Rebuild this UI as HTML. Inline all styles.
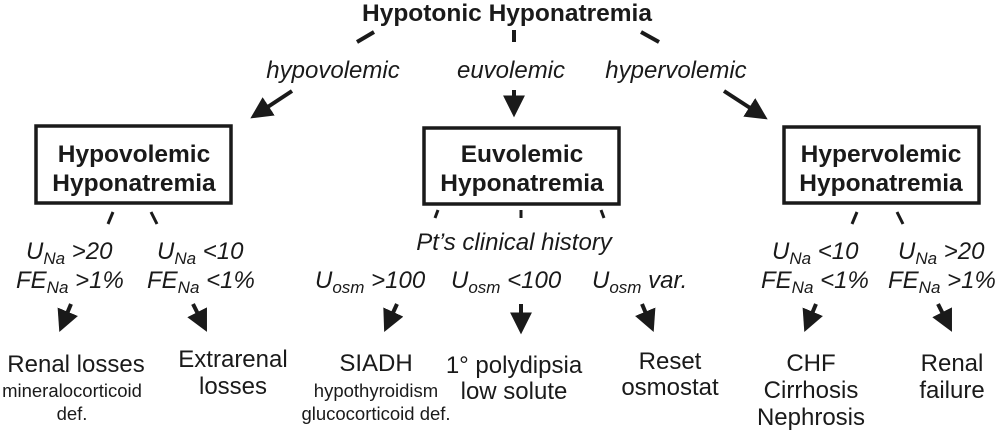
<!DOCTYPE html>
<html><head><meta charset="utf-8"><style>
html,body{margin:0;padding:0;background:#fff;}
svg{display:block;font-family:"Liberation Sans",Arial,sans-serif;}
.b{font-weight:bold;font-size:24.5px;}
.i{font-style:italic;font-size:24px;}
.n{font-size:24px;}
.s{font-size:18.5px;}
.sub{font-size:17px;}
text{fill:#1a1a1a;}
</style></head><body>
<svg width="997" height="436" viewBox="0 0 997 436">
<defs><marker id="ah" viewBox="0 0 10 10" refX="8" refY="5" markerWidth="5.5" markerHeight="5.5" orient="auto"><path d="M0,0L10,5L0,10z" fill="#1a1a1a"/></marker></defs>
<g stroke="#1a1a1a" stroke-width="4" fill="none">
<line x1="374" y1="32" x2="357" y2="42"/>
<line x1="514" y1="30" x2="514" y2="42"/>
<line x1="641" y1="32" x2="659" y2="42"/>
<line x1="292" y1="91" x2="254" y2="116" marker-end="url(#ah)"/>
<line x1="514" y1="90" x2="514" y2="113" marker-end="url(#ah)"/>
<line x1="724" y1="91" x2="764" y2="117" marker-end="url(#ah)"/>
<rect x="36" y="126" width="195" height="77" stroke-width="3.5"/>
<rect x="424" y="128" width="195" height="76" stroke-width="3.5"/>
<rect x="784" y="127" width="195" height="76" stroke-width="3.5"/>
<line x1="113" y1="212" x2="108" y2="224" stroke-width="3"/>
<line x1="151" y1="212" x2="157" y2="224" stroke-width="3"/>
<line x1="438" y1="210" x2="435" y2="218" stroke-width="3"/>
<line x1="521" y1="210" x2="521" y2="218" stroke-width="3"/>
<line x1="601" y1="210" x2="604" y2="218" stroke-width="3"/>
<line x1="857" y1="212" x2="852" y2="224" stroke-width="3"/>
<line x1="897" y1="212" x2="903" y2="224" stroke-width="3"/>
<line x1="71" y1="304" x2="61" y2="328" marker-end="url(#ah)"/>
<line x1="193" y1="304" x2="205" y2="328" marker-end="url(#ah)"/>
<line x1="397" y1="304" x2="386" y2="328" marker-end="url(#ah)"/>
<line x1="521" y1="304" x2="521" y2="330" marker-end="url(#ah)"/>
<line x1="642" y1="304" x2="652" y2="328" marker-end="url(#ah)"/>
<line x1="816" y1="304" x2="806" y2="328" marker-end="url(#ah)"/>
<line x1="938" y1="304" x2="950" y2="328" marker-end="url(#ah)"/>
</g>
<text x="507" y="21" text-anchor="middle" class="b" textLength="290" lengthAdjust="spacingAndGlyphs">Hypotonic Hyponatremia</text>
<text x="333" y="78" text-anchor="middle" class="i">hypovolemic</text>
<text x="511" y="78" text-anchor="middle" class="i">euvolemic</text>
<text x="676" y="78" text-anchor="middle" class="i">hypervolemic</text>
<text x="134" y="162" text-anchor="middle" class="b">Hypovolemic</text>
<text x="134" y="191" text-anchor="middle" class="b">Hyponatremia</text>
<text x="522" y="162" text-anchor="middle" class="b">Euvolemic</text>
<text x="522" y="191" text-anchor="middle" class="b">Hyponatremia</text>
<text x="881" y="162" text-anchor="middle" class="b">Hypervolemic</text>
<text x="881" y="191" text-anchor="middle" class="b">Hyponatremia</text>
<text x="514" y="250" text-anchor="middle" class="i">Pt’s clinical history</text>
<g>
<text x="26" y="259" class="i">U<tspan class="sub" dy="5">Na</tspan><tspan dy="-5"> &gt;20</tspan></text>
<text x="16" y="288" class="i">FE<tspan class="sub" dy="5">Na</tspan><tspan dy="-5"> &gt;1%</tspan></text>
<text x="157" y="259" class="i">U<tspan class="sub" dy="5">Na</tspan><tspan dy="-5"> &lt;10</tspan></text>
<text x="147" y="288" class="i">FE<tspan class="sub" dy="5">Na</tspan><tspan dy="-5"> &lt;1%</tspan></text>
<text x="315" y="288" class="i">U<tspan class="sub" dy="5">osm</tspan><tspan dy="-5"> &gt;100</tspan></text>
<text x="451" y="288" class="i">U<tspan class="sub" dy="5">osm</tspan><tspan dy="-5"> &lt;100</tspan></text>
<text x="592" y="288" class="i">U<tspan class="sub" dy="5">osm</tspan><tspan dy="-5"> var.</tspan></text>
<text x="772" y="259" class="i">U<tspan class="sub" dy="5">Na</tspan><tspan dy="-5"> &lt;10</tspan></text>
<text x="761" y="288" class="i">FE<tspan class="sub" dy="5">Na</tspan><tspan dy="-5"> &lt;1%</tspan></text>
<text x="898" y="259" class="i">U<tspan class="sub" dy="5">Na</tspan><tspan dy="-5"> &gt;20</tspan></text>
<text x="888" y="288" class="i">FE<tspan class="sub" dy="5">Na</tspan><tspan dy="-5"> &gt;1%</tspan></text>
</g>
<text x="76" y="372" text-anchor="middle" class="n">Renal losses</text>
<text x="72" y="397" text-anchor="middle" class="s">mineralocorticoid</text>
<text x="72" y="420" text-anchor="middle" class="s">def.</text>
<text x="233" y="367" text-anchor="middle" class="n">Extrarenal</text>
<text x="233" y="394" text-anchor="middle" class="n">losses</text>
<text x="376" y="371" text-anchor="middle" class="n">SIADH</text>
<text x="376" y="397" text-anchor="middle" class="s">hypothyroidism</text>
<text x="376" y="420" text-anchor="middle" class="s">glucocorticoid def.</text>
<text x="514" y="373" text-anchor="middle" class="n">1° polydipsia</text>
<text x="514" y="399" text-anchor="middle" class="n">low solute</text>
<text x="670" y="369" text-anchor="middle" class="n">Reset</text>
<text x="670" y="395" text-anchor="middle" class="n">osmostat</text>
<text x="811" y="371" text-anchor="middle" class="n">CHF</text>
<text x="811" y="398" text-anchor="middle" class="n">Cirrhosis</text>
<text x="811" y="425" text-anchor="middle" class="n">Nephrosis</text>
<text x="952" y="371" text-anchor="middle" class="n">Renal</text>
<text x="952" y="398" text-anchor="middle" class="n">failure</text>
</svg>
</body></html>
